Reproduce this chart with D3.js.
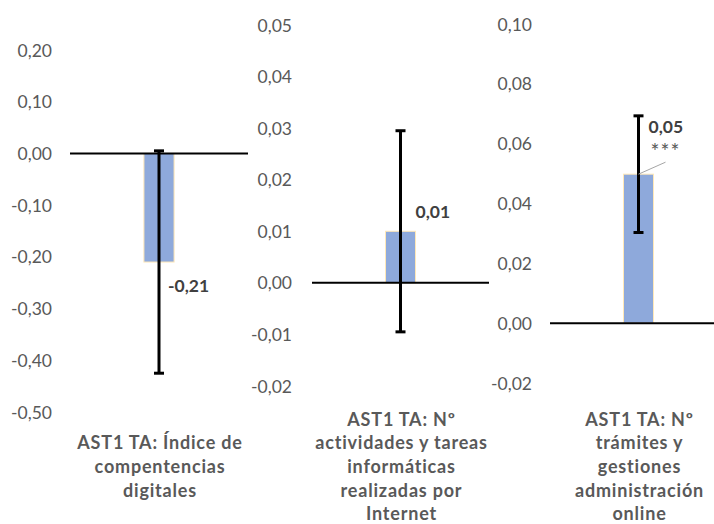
<!DOCTYPE html>
<html>
<head>
<meta charset="utf-8">
<script src="https://cdn.jsdelivr.net/npm/d3@7"></script>
<style>
  html, body { margin: 0; padding: 0; background: #fff; }
  svg { display: block; }
  text { font-family: Lato, "Open Sans", sans-serif; }
</style>
</head>
<body>
<svg id="chart" width="714" height="524"></svg>
<script>
// ---- data ----
const categories = [
  ["AST1 TA: Índice de", "compentencias", "digitales"],
  ["AST1 TA: Nº", "actividades y tareas", "informáticas", "realizadas por", "Internet"],
  ["AST1 TA: Nº", "trámites y", "gestiones", "administración", "online"]
];
const values = [-0.21, 0.01, 0.0498];
const errors = [0.215, 0.0195, 0.0195];
const valueLabels = ["-0,21", "0,01", "0,05"];
const significance = ["", "", "***"];
const ticks1 = [0.20, 0.10, 0.00, -0.10, -0.20, -0.30, -0.40, -0.50];
const ticks2 = [0.05, 0.04, 0.03, 0.02, 0.01, 0.00, -0.01, -0.02];
const ticks3 = [0.10, 0.08, 0.06, 0.04, 0.02, 0.00, -0.02];
const tickSets = [ticks1, ticks2, ticks3];

// ---- layout (positions / styles) ----
const panels = [
  { x0: 70,  x1: 248, yTop: 50, yBot: 412, tickRight: 52,  lab: { dx: 9,  dy: 30 } },
  { x0: 312, x1: 489, yTop: 25, yBot: 386, tickRight: 292, lab: { dx: 15, dy: -13 } },
  { x0: 550, x1: 727, yTop: 24, yBot: 383, tickRight: 532, lab: { dx: 10, dy: -41 } }
];
const fmt = v => d3.format(".2f")(v).replace("−", "-").replace("-0.00", "0.00").replace(".", ",");

const svg = d3.select("#chart");

panels.forEach((p, i) => {
  const ticks = tickSets[i];
  const y = d3.scaleLinear().domain(d3.extent(ticks)).range([p.yBot, p.yTop]);
  const x = d3.scaleBand().domain([i]).range([p.x0, p.x1]).paddingInner(0).paddingOuter(2.45);
  const g = svg.append("g");

  // y axis labels (no axis line)
  const axis = d3.axisLeft(y).tickValues(ticks).tickSize(0).tickPadding(0).tickFormat(fmt);
  const ag = g.append("g").attr("transform", `translate(${p.tickRight},0)`).call(axis);
  ag.select(".domain").remove();
  ag.selectAll("text")
    .attr("fill", "#595959")
    .style("font-family", "Lato, 'Open Sans', sans-serif")
    .style("font-size", "17.5px")
    .attr("dy", "0.35em");

  // bar
  const v = values[i];
  const cx = x(i) + x.bandwidth() / 2;
  g.append("rect")
    .attr("x", x(i))
    .attr("width", x.bandwidth())
    .attr("y", y(Math.max(0, v)))
    .attr("height", Math.abs(y(v) - y(0)))
    .attr("fill", "#8EA9DB")
    .attr("stroke", "#FFE8B8")
    .attr("stroke-width", 1);

  // zero line
  g.append("line")
    .attr("x1", p.x0).attr("x2", p.x1)
    .attr("y1", y(0)).attr("y2", y(0))
    .attr("stroke", "#000").attr("stroke-width", 2);

  // error bar
  const lo = v - errors[i], hi = v + errors[i];
  g.append("line")
    .attr("x1", cx).attr("x2", cx).attr("y1", y(hi)).attr("y2", y(lo))
    .attr("stroke", "#000").attr("stroke-width", 3);
  [lo, hi].forEach(e => {
    g.append("line")
      .attr("x1", cx - 5).attr("x2", cx + 5).attr("y1", y(e)).attr("y2", y(e))
      .attr("stroke", "#000").attr("stroke-width", 3);
  });

  // value label
  const lx = cx + p.lab.dx, ly = y(v) + p.lab.dy;
  g.append("text")
    .attr("x", lx).attr("y", ly)
    .attr("fill", "#404040")
    .style("font-size", "17.5px").style("font-weight", "bold")
    .text(valueLabels[i]);
  if (significance[i]) {
    g.append("text")
      .attr("x", lx + 17).attr("y", ly + 26)
      .attr("text-anchor", "middle")
      .attr("fill", "#595959")
      .style("font-size", "21px")
      .style("letter-spacing", "1px")
      .text(significance[i]);
    g.append("line")
      .attr("x1", cx).attr("y1", y(v))
      .attr("x2", cx + 27).attr("y2", y(v) - 12)
      .attr("stroke", "#A6A6A6").attr("stroke-width", 1);
  }

  // category label
  const lines = categories[i];
  const t = g.append("text")
    .attr("text-anchor", "middle")
    .attr("fill", "#595959")
    .style("font-size", "18px").style("font-weight", "bold")
    .style("letter-spacing", "0.8px");
  lines.forEach((ln, k) => {
    t.append("tspan")
      .attr("x", (p.x0 + p.x1) / 2 + 1)
      .attr("y", 473 + (k - (lines.length - 1) / 2) * 23.6)
      .text(ln);
  });
});
</script>
</body>
</html>
